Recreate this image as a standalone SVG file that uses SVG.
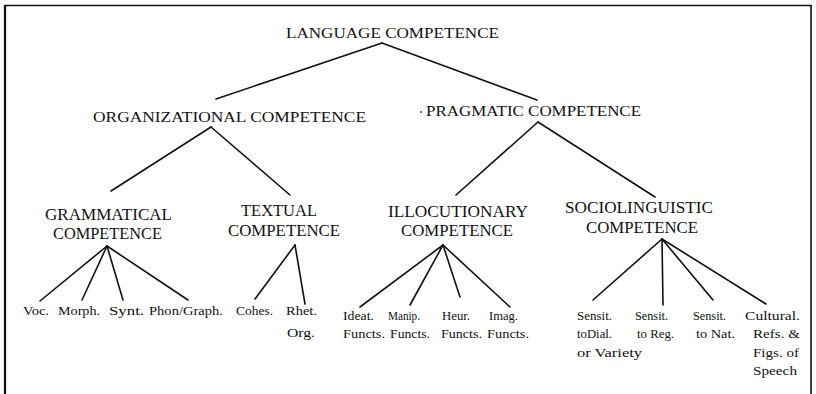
<svg xmlns="http://www.w3.org/2000/svg" width="816" height="394" viewBox="0 0 816 394">
<style>
  text { font-family: "Liberation Serif", "Times New Roman", serif; fill: #111; }
  .l1 { font-size: 15px; }
  .l3 { font-size: 17px; }
  .lf { font-size: 11.5px; }
  .ls { font-size: 12px; }
  .conn line { stroke: #111; stroke-width: 1.6; stroke-linecap: round; }
  .frame { stroke: #111; fill: none; }
</style>
<rect x="0" y="0" width="816" height="394" fill="#fff"/>
<g id="frame">
  <line class="frame" x1="4" y1="5.5" x2="812" y2="5.5" stroke-width="1.6"/>
  <line class="frame" x1="5" y1="5" x2="5" y2="394" stroke-width="2.2"/>
  <line class="frame" x1="811" y1="5" x2="811" y2="394" stroke-width="1.6"/>
</g>
<g id="connectors" class="conn">
  <line x1="382" y1="43" x2="216" y2="99"/>
  <line x1="382" y1="43" x2="537" y2="100"/>
  <line x1="211" y1="127" x2="111" y2="191"/>
  <line x1="211" y1="127" x2="290" y2="195"/>
  <line x1="538" y1="122" x2="456" y2="195"/>
  <line x1="538" y1="122" x2="655" y2="197"/>
  <line x1="107" y1="246" x2="40" y2="301"/>
  <line x1="107" y1="246" x2="82" y2="300"/>
  <line x1="107" y1="246" x2="123" y2="300"/>
  <line x1="107" y1="246" x2="188" y2="300"/>
  <line x1="295" y1="245" x2="255" y2="299"/>
  <line x1="295" y1="245" x2="305" y2="304"/>
  <line x1="443" y1="245" x2="360" y2="307"/>
  <line x1="443" y1="245" x2="410" y2="305"/>
  <line x1="443" y1="245" x2="460" y2="297"/>
  <line x1="443" y1="245" x2="510" y2="307"/>
  <line x1="662" y1="239" x2="593" y2="300"/>
  <line x1="662" y1="239" x2="663" y2="305"/>
  <line x1="662" y1="239" x2="713" y2="300"/>
  <line x1="662" y1="239" x2="766" y2="304"/>
</g>
<g id="language">
  <text class="l1" x="286" y="38" textLength="213" lengthAdjust="spacingAndGlyphs">LANGUAGE COMPETENCE</text>
</g>
<g id="organizational">
  <text class="l1" x="93" y="122" textLength="273" lengthAdjust="spacingAndGlyphs">ORGANIZATIONAL COMPETENCE</text>
</g>
<g id="pragmatic">
  <circle cx="421" cy="112" r="0.9" fill="#333"/>
  <text class="l1" x="426" y="116" textLength="215" lengthAdjust="spacingAndGlyphs">PRAGMATIC COMPETENCE</text>
</g>
<g id="grammatical">
  <text class="l3" x="45" y="220" textLength="127" lengthAdjust="spacingAndGlyphs">GRAMMATICAL</text>
  <text class="l3" x="53" y="239" textLength="109" lengthAdjust="spacingAndGlyphs">COMPETENCE</text>
</g>
<g id="textual">
  <text class="l3" x="241" y="216" textLength="76" lengthAdjust="spacingAndGlyphs">TEXTUAL</text>
  <text class="l3" x="228" y="236" textLength="112" lengthAdjust="spacingAndGlyphs">COMPETENCE</text>
</g>
<g id="illocutionary">
  <text class="l3" x="388" y="217" textLength="140" lengthAdjust="spacingAndGlyphs">ILLOCUTIONARY</text>
  <text class="l3" x="401" y="236" textLength="112" lengthAdjust="spacingAndGlyphs">COMPETENCE</text>
</g>
<g id="sociolinguistic">
  <text class="l3" x="565" y="213" textLength="148" lengthAdjust="spacingAndGlyphs">SOCIOLINGUISTIC</text>
  <text class="l3" x="586" y="233" textLength="112" lengthAdjust="spacingAndGlyphs">COMPETENCE</text>
</g>
<g id="voc"><text class="lf" x="23" y="315" textLength="26" lengthAdjust="spacingAndGlyphs">Voc.</text></g>
<g id="morph"><text class="lf" x="58" y="315" textLength="42" lengthAdjust="spacingAndGlyphs">Morph.</text></g>
<g id="synt"><text class="lf" x="109" y="315" textLength="35" lengthAdjust="spacingAndGlyphs">Synt.</text></g>
<g id="phon"><text class="lf" x="149" y="315" textLength="74" lengthAdjust="spacingAndGlyphs">Phon/Graph.</text></g>
<g id="cohes"><text class="lf" x="236" y="315" textLength="37" lengthAdjust="spacingAndGlyphs">Cohes.</text></g>
<g id="rhet">
  <text class="lf" x="286" y="315" textLength="31" lengthAdjust="spacingAndGlyphs">Rhet.</text>
  <text class="lf" x="287" y="337" textLength="28" lengthAdjust="spacingAndGlyphs">Org.</text>
</g>
<g id="ideat">
  <text class="lf" x="343" y="320" textLength="31" lengthAdjust="spacingAndGlyphs">Ideat.</text>
  <text class="lf" x="343" y="338" textLength="42" lengthAdjust="spacingAndGlyphs">Functs.</text>
</g>
<g id="manip">
  <text class="lf" x="388" y="320" textLength="32" lengthAdjust="spacingAndGlyphs">Manip.</text>
  <text class="lf" x="390" y="338" textLength="40" lengthAdjust="spacingAndGlyphs">Functs.</text>
</g>
<g id="heur">
  <text class="lf" x="442" y="320" textLength="28" lengthAdjust="spacingAndGlyphs">Heur.</text>
  <text class="lf" x="441" y="338" textLength="41" lengthAdjust="spacingAndGlyphs">Functs.</text>
</g>
<g id="imag">
  <text class="lf" x="489" y="320" textLength="29" lengthAdjust="spacingAndGlyphs">Imag.</text>
  <text class="lf" x="487" y="338" textLength="42" lengthAdjust="spacingAndGlyphs">Functs.</text>
</g>
<g id="sensit-dial">
  <text class="ls" x="577" y="320" textLength="35" lengthAdjust="spacingAndGlyphs">Sensit.</text>
  <text class="ls" x="577" y="338" textLength="35" lengthAdjust="spacingAndGlyphs">toDial.</text>
  <text class="ls" x="577" y="357" textLength="65" lengthAdjust="spacingAndGlyphs">or Variety</text>
</g>
<g id="sensit-reg">
  <text class="ls" x="635" y="320" textLength="33" lengthAdjust="spacingAndGlyphs">Sensit.</text>
  <text class="ls" x="637" y="338" textLength="37" lengthAdjust="spacingAndGlyphs">to Reg.</text>
</g>
<g id="sensit-nat">
  <text class="ls" x="693" y="320" textLength="33" lengthAdjust="spacingAndGlyphs">Sensit.</text>
  <text class="ls" x="696" y="338" textLength="39" lengthAdjust="spacingAndGlyphs">to Nat.</text>
</g>
<g id="cultural">
  <text class="ls" x="745" y="320" textLength="55" lengthAdjust="spacingAndGlyphs">Cultural.</text>
  <text class="ls" x="753" y="338" textLength="47" lengthAdjust="spacingAndGlyphs">Refs. &amp;</text>
  <text class="ls" x="753" y="357" textLength="46" lengthAdjust="spacingAndGlyphs">Figs. of</text>
  <text class="ls" x="753" y="375" textLength="44" lengthAdjust="spacingAndGlyphs">Speech</text>
</g>
</svg>
